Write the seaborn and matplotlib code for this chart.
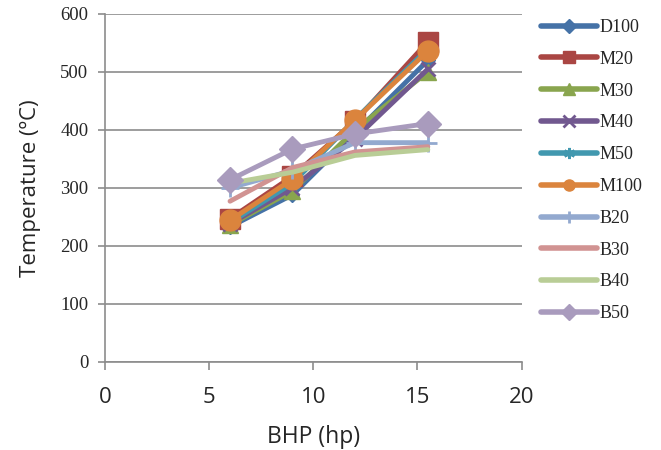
import matplotlib
matplotlib.use("Agg")
import matplotlib.pyplot as plt
import seaborn as sns
import pandas as pd

bhp = [6, 9, 12, 15.5]
series_names = ["D100", "M20", "M30", "M40", "M50", "M100", "B20", "B30", "B40", "B50"]
D100 = [233, 288, 395, 520]
M20 = [247, 320, 415, 552]
M30 = [236, 295, 400, 500]
M40 = [238, 300, 385, 505]
M50 = [240, 308, 418, 540]
M100 = [244, 315, 417, 536]
B20 = [300, 330, 378, 378]
B30 = [277, 335, 362, 371]
B40 = [308, 327, 356, 366]
B50 = [314, 367, 393, 411]

values = [D100, M20, M30, M40, M50, M100, B20, B30, B40, B50]
colors = ["#4572A7", "#AA4643", "#89A54E", "#71588F", "#4198AF",
          "#DB843D", "#93A9CF", "#D19392", "#B9CD96", "#A99BBD"]
markers = ["D", "s", "^", "x", (6, 2, 0), "o", "+", "", "", "D"]
msizes = [7, 14, 11, 10, 9, 15, 13, 0, 0, 13]

rows = []
for name, vals in zip(series_names, values):
    for x, y in zip(bhp, vals):
        rows.append({"BHP": x, "Temp": y, "Series": name})
df = pd.DataFrame(rows)

sns.set_theme(style="white")
plt.rcParams["font.family"] = ["Open Sans", "DejaVu Sans"]
serif = ["Liberation Serif", "DejaVu Serif"]

fig = plt.figure(figsize=(6.61, 4.5), dpi=100)
ax = fig.add_axes([0.159, 0.196, 0.63, 0.773])

for name, c, m, ms in zip(series_names, colors, markers, msizes):
    sub = df[df["Series"] == name]
    sns.lineplot(data=sub, x="BHP", y="Temp", ax=ax, color=c, lw=3.5,
                 marker=m if m != "" else None, markersize=ms,
                 markeredgecolor=c, markeredgewidth=2 if m in ["x", "+", (6, 2, 0)] else 1,
                 label=name, estimator=None, sort=False)

ax.set_xlim(0, 20)
ax.set_ylim(0, 600)
ax.set_xticks([0, 5, 10, 15, 20])
ax.set_yticks(range(0, 601, 100))
ax.yaxis.grid(True, color="#8c8c8c", lw=1.2)
ax.xaxis.grid(False)
for s in ["top", "right"]:
    ax.spines[s].set_visible(False)
for s in ["left", "bottom"]:
    ax.spines[s].set_color("#8c8c8c")
    ax.spines[s].set_linewidth(1.2)
ax.tick_params(axis="x", which="both", bottom=True, length=5.5, width=1.2, color="#8c8c8c",
               labelsize=16, pad=13)
ax.tick_params(axis="y", which="both", left=True, length=5, width=1.2, color="#8c8c8c",
               labelsize=13.5, pad=7)
for lab in ax.get_yticklabels():
    lab.set_family(serif)
ax.set_xlabel("BHP (hp)", fontsize=16.5, labelpad=12)
ax.set_ylabel("Temperature (ºC)", fontsize=16, labelpad=14)

leg = ax.legend(loc="upper left", bbox_to_anchor=(541 / 661, 1 - 19 / 450),
                bbox_transform=fig.transFigure, frameon=False,
                prop={"family": serif, "size": 13},
                handlelength=3.1, labelspacing=0.82, handletextpad=0.15,
                borderpad=0, borderaxespad=0)
for h in leg.legend_handles:
    h.set_markersize(min(h.get_markersize(), 8))
    h.set_linewidth(4)

fig.savefig("out.png", dpi=100)
